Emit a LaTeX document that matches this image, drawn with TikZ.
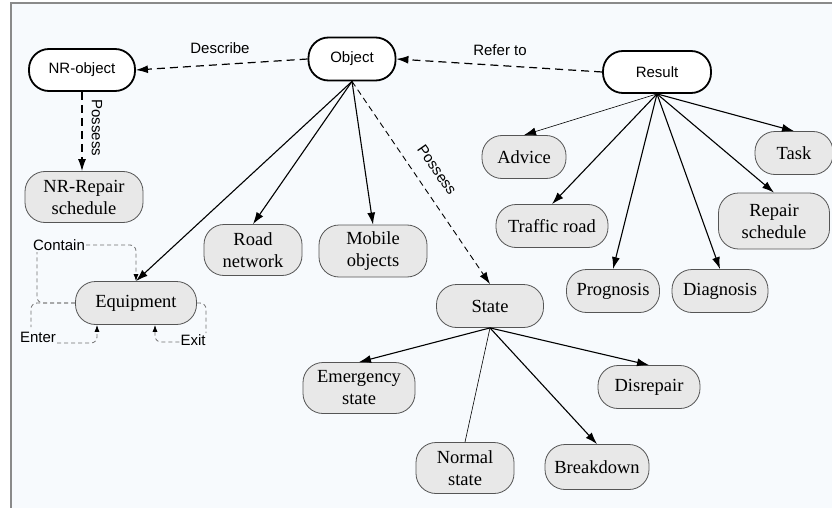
\documentclass[tikz,border=0pt]{standalone}
\usepackage{fontspec}
\setmainfont{Liberation Serif}
\setsansfont{Liberation Sans}
\usetikzlibrary{arrows.meta,calc}
\definecolor{bgc}{HTML}{F7FAFD}
\definecolor{nodegray}{HTML}{E8E8E8}
\definecolor{bordergray}{HTML}{555555}
\definecolor{loopgray}{HTML}{707070}
\definecolor{framegray}{HTML}{8A8A8A}
\tikzset{
 topnode/.style={draw=black, line width=1.8pt, fill=white, rounded corners=20pt, font=\sffamily\fontsize{15}{18}\selectfont, inner sep=0pt},
 graynode/.style={draw=bordergray, line width=0.8pt, fill=nodegray, rounded corners=20pt, font=\fontsize{18.5}{22}\selectfont, align=center, inner sep=0pt},
 sz/.style 2 args={minimum width=#1pt, minimum height=#2pt},
 lbl/.style={font=\sffamily\fontsize{15}{18}\selectfont, inner sep=1pt},
 solidarrow/.style={line width=1.1pt, -{Latex[length=12pt,width=8pt]}},
 thinarrow/.style={line width=0.6pt, -{Latex[length=12pt,width=8pt]}},
 dasharrow/.style={line width=1.2pt, dash pattern=on 8pt off 5pt, -{Latex[length=12pt,width=8pt]}},
 loopline/.style={draw=loopgray, line width=0.8pt, dash pattern=on 4pt off 3pt, rounded corners=6pt},
 looparrow/.style={loopline, -{Latex[length=7pt,width=5pt,black]}},
}
\begin{document}
\begin{tikzpicture}[x=1pt,y=-1pt]
\useasboundingbox (0,0) rectangle (832,508);
\fill[white] (0,0) rectangle (832,508);
\fill[bgc] (11,3) rectangle (832,508);
\draw[framegray, line width=1.5pt] (11,508) -- (11,3) -- (832,3);

% nodes
\node[topnode, sz={106}{42}] (nro) at (82,70) {NR-object};
\node[topnode, sz={87}{43}] (obj) at (352,59) {Object};
\node[topnode, sz={108}{42}] (res) at (657,72) {Result};
\node[graynode, sz={118}{51}] (nrr) at (84,197) {NR-Repair\\schedule};
\node[graynode, sz={98}{51}] (road) at (253,250) {Road\\network};
\node[graynode, sz={108}{52}] (mob) at (373,251) {Mobile\\objects};
\node[graynode, sz={121}{43}] (eq) at (136,303) {Equipment};
\node[graynode, sz={107}{43}] (state) at (490,306) {State};
\node[graynode, sz={84}{43}] (adv) at (524,157) {Advice};
\node[graynode, sz={112}{43}] (traf) at (552,226) {Traffic road};
\node[graynode, sz={78}{43}] (task) at (794,153) {Task};
\node[graynode, sz={111}{56}] (rep) at (774,221) {Repair\\schedule};
\node[graynode, sz={93}{43}] (prog) at (613,291) {Prognosis};
\node[graynode, sz={96}{43}] (diag) at (720,291) {Diagnosis};
\node[graynode, sz={112}{51}] (emer) at (359,388) {Emergency\\state};
\node[graynode, sz={102}{43}] (disr) at (649,387) {Disrepair};
\node[graynode, sz={98}{51}] (norm) at (465,468) {Normal\\state};
\node[graynode, sz={104}{45}] (brk) at (597,467) {Breakdown};

% labels
\node[lbl] (describe) at (220,48) {Describe};
\node[lbl] (referto) at (500,50) {Refer to};
\node[lbl, rotate=-90] (poss1) at (97,128) {Possess};
\node[lbl, rotate=-55] (poss2) at (437,170) {Possess};
\node[lbl] (contain) at (59,245) {Contain};
\node[lbl] (enter) at (38,337) {Enter};
\node[lbl] (exit) at (193,340) {Exit};

% main edges
\draw[dasharrow] (obj.west) -- (nro.east);
\draw[dasharrow] (res.west) -- (obj.east);
\draw[dasharrow] (nro.south) -- (nro.south |- nrr.north);
\draw[solidarrow] (obj.south) -- (eq.north);
\draw[solidarrow] (obj.south) -- (road.north);
\draw[solidarrow] (obj.south) -- (mob.north);
\draw[dasharrow, line width=0.9pt, dash pattern=on 6pt off 4pt] (obj.south) -- (state.north);

\draw[thinarrow] (res.south) -- (adv.north);
\draw[solidarrow] (res.south) -- (traf.north);
\draw[solidarrow] (res.south) -- (prog.north);
\draw[solidarrow] (res.south) -- (diag.north);
\draw[solidarrow] (res.south) -- (rep.north);
\draw[solidarrow] (res.south) -- (task.north);

\draw[solidarrow] (state.south) -- (emer.north);
\draw[line width=0.6pt] (state.south) -- (norm.north);
\draw[solidarrow] (state.south) -- (brk.north);
\draw[solidarrow] (state.south) -- (disr.north);

% equipment loops
\draw[loopline] (eq.west) -| (37,252);
\draw[looparrow] (contain.east) -| (eq.north);
\draw[loopline] (eq.west) -| (31,327);
\draw[looparrow] ($(enter.east)+(0,6)$) -| ($(eq.south)+(-39,0)$);
\draw[loopline] (eq.east) -| (206,333);
\draw[looparrow] ($(exit.west)+(0,2)$) -| ($(eq.south)+(19,0)$);
\end{tikzpicture}
\end{document}
